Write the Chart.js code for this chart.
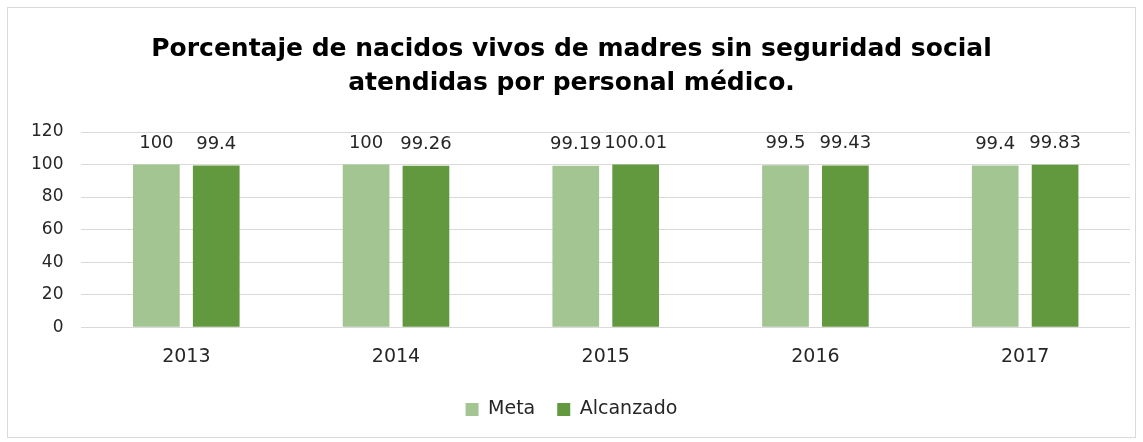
<!DOCTYPE html>
<html lang="es">
<head>
    <meta charset="UTF-8">
    <title>Nacidos vivos atendidos por personal médico</title>
    <script src="https://cdn.jsdelivr.net/npm/chart.js@4/dist/chart.umd.min.js"></script>
    <style>
        body {
            margin: 0;
            background-color: #ffffff;
        }

        #marco {
            position: absolute;
            left: 7px;
            top: 7px;
            width: 1127px;
            height: 429px;
            border: 1px solid #d9d9d9;
        }
    </style>
</head>
<body>
    <div id="marco">
        <canvas id="grafico" width="1127" height="429"></canvas>
    </div>

    <script>
        const anios = ['2013', '2014', '2015', '2016', '2017'];
        const meta = [100, 100, 99.19, 99.5, 99.4];
        const alcanzado = [99.4, 99.26, 100.01, 99.43, 99.83];
        const ticksY = [0, 20, 40, 60, 80, 100, 120];

        const FUENTE = "'DejaVu Sans', sans-serif";

        // etiquetas de valor encima de cada barra
        const etiquetasValor = {
            id: 'etiquetasValor',
            afterDatasetsDraw(chart) {
                const ctx = chart.ctx;
                ctx.save();
                ctx.fillStyle = '#262626';
                ctx.font = '18px ' + FUENTE;
                ctx.textAlign = 'center';
                ctx.textBaseline = 'alphabetic';
                chart.data.datasets.forEach((ds, i) => {
                    const meta = chart.getDatasetMeta(i);
                    meta.data.forEach((bar, j) => {
                        ctx.fillText(String(ds.data[j]), bar.x, bar.y - 17);
                    });
                });
                ctx.restore();
            }
        };

        new Chart(document.getElementById('grafico'), {
            type: 'bar',
            data: {
                labels: anios,
                datasets: [{
                    label: 'Meta',
                    data: meta,
                    backgroundColor: '#a2c592'
                }, {
                    label: 'Alcanzado',
                    data: alcanzado,
                    backgroundColor: '#62993e'
                }]
            },
            options: {
                responsive: false,
                animation: false,
                categoryPercentage: 0.571,
                barPercentage: 0.78,
                layout: {
                    padding: { left: 5, right: 5, top: 8, bottom: 8 }
                },
                plugins: {
                    title: {
                        display: true,
                        text: ['Porcentaje de nacidos vivos de madres sin seguridad social',
                               'atendidas por personal médico.'],
                        color: '#000000',
                        font: { family: FUENTE, size: 25, weight: 'bold', lineHeight: 1.36 },
                        padding: { top: 16, bottom: 32 }
                    },
                    legend: {
                        position: 'bottom',
                        labels: {
                            color: '#262626',
                            font: { family: FUENTE, size: 19 },
                            boxWidth: 13,
                            boxHeight: 13,
                            padding: 22
                        }
                    },
                    tooltip: { enabled: false }
                },
                scales: {
                    x: {
                        grid: { display: false },
                        border: { display: false },
                        ticks: {
                            color: '#262626',
                            font: { family: FUENTE, size: 19 },
                            padding: 10
                        }
                    },
                    y: {
                        min: 0,
                        max: 120,
                        afterBuildTicks: (axis) => {
                            axis.ticks = ticksY.map(v => ({ value: v }));
                        },
                        grid: { color: '#d9d9d9', lineWidth: 1, drawTicks: false },
                        border: { display: false },
                        ticks: {
                            color: '#262626',
                            font: { family: FUENTE, size: 17 },
                            padding: 18
                        }
                    }
                }
            },
            plugins: [etiquetasValor]
        });
    </script>
</body>
</html>
